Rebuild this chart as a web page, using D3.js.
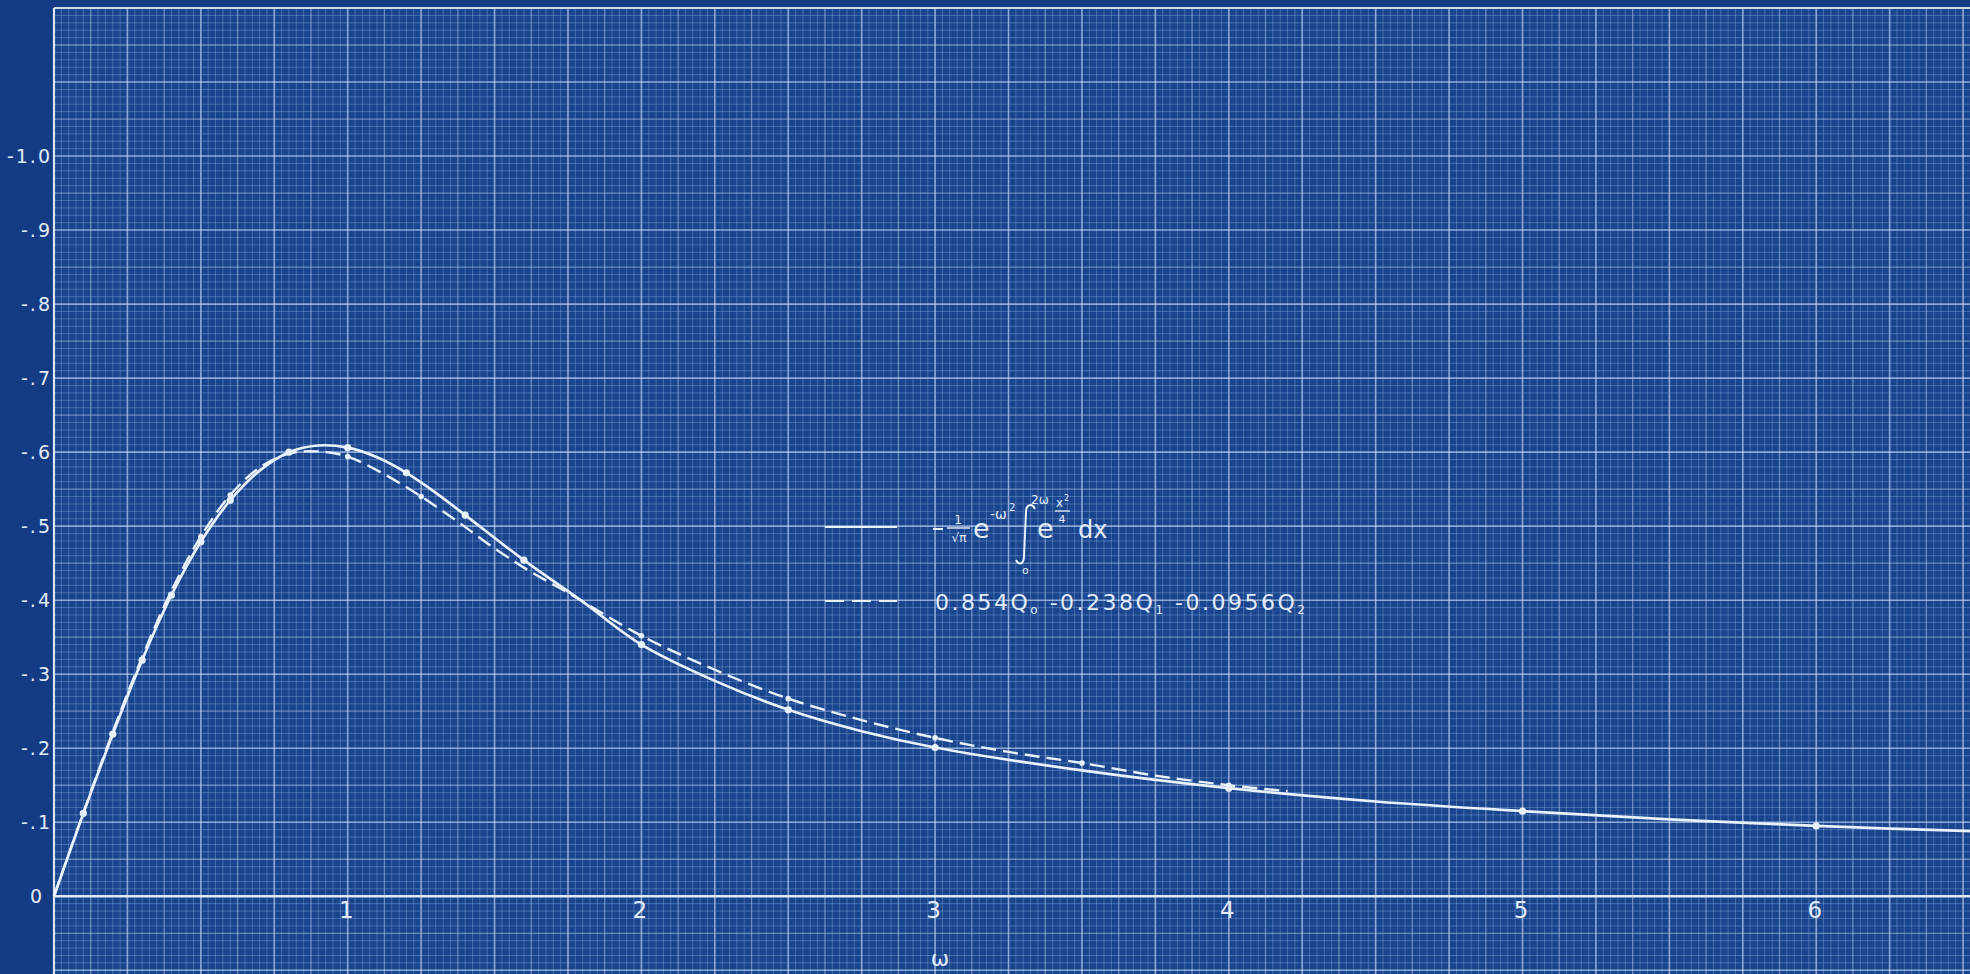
<!DOCTYPE html>
<html>
<head>
<meta charset="utf-8">
<script src="https://cdn.jsdelivr.net/npm/d3@7"></script>
<style>
  html, body { margin: 0; padding: 0; background: #143c84; }
  svg { display: block; }
  text { font-family: "DejaVu Sans", sans-serif; fill: #e2ecf8; }
</style>
</head>
<body>
<svg id="chart" width="1970" height="974"></svg>
<script>
// ω values and the plotted quantity (negative, plotted upward)
const omegaExact = [0, 0.1, 0.2, 0.3, 0.4, 0.5, 0.6, 0.7, 0.8, 0.9, 1.0, 1.1, 1.2, 1.3, 1.4, 1.6, 1.8, 2.0, 2.25, 2.5, 2.75, 3.0, 3.5, 4.0, 4.5, 5.0, 5.5, 6.0, 6.6];
const exactValues = [0, -0.112, -0.219, -0.319, -0.407, -0.479, -0.535, -0.575, -0.600, -0.609, -0.606, -0.593, -0.572, -0.545, -0.515, -0.454, -0.398, -0.340, -0.291, -0.252, -0.223, -0.201, -0.170, -0.146, -0.128, -0.115, -0.104, -0.095, -0.087];
const exactMarked = [0.1, 0.2, 0.3, 0.4, 0.5, 0.6, 0.8, 1.0, 1.2, 1.4, 1.6, 2.0, 2.5, 3.0, 4.0, 5.0, 6.0];

// three-term Q-series approximation: 0.854 Q0 - 0.238 Q1 - 0.0956 Q2
const omegaApprox = [0, 0.1, 0.2, 0.3, 0.4, 0.5, 0.6, 0.7, 0.8, 0.9, 1.0, 1.125, 1.25, 1.375, 1.5, 1.625, 1.75, 2.0, 2.25, 2.5, 2.75, 3.0, 3.25, 3.5, 3.75, 4.0, 4.2];
const approxValues = [0, -0.113, -0.222, -0.323, -0.413, -0.486, -0.542, -0.579, -0.598, -0.601, -0.594, -0.570, -0.540, -0.506, -0.470, -0.438, -0.410, -0.352, -0.306, -0.267, -0.238, -0.214, -0.195, -0.180, -0.163, -0.150, -0.142];
const approxMarked = [0.5, 0.6, 1.0, 1.25, 2.0, 2.5, 3.0, 3.5, 4.0];

// axis ticks
const xTickValues = [1, 2, 3, 4, 5, 6];
const xTickLabels = ["1", "2", "3", "4", "5", "6"];
const yTickValues = [0, -0.1, -0.2, -0.3, -0.4, -0.5, -0.6, -0.7, -0.8, -0.9, -1.0];
const yTickLabels = ["0", "-.1", "-.2", "-.3", "-.4", "-.5", "-.6", "-.7", "-.8", "-.9", "-1.0"];

const W = 1970, H = 974;
const padLeft = 54, padTop = 8;

const svg = d3.select("#chart");

// the ruled sheet runs past the right and bottom edges
const x = d3.scaleLinear().domain([0, 6.5236]).range([padLeft, W]);
const y = d3.scaleLinear().domain([0.105, -1.2]).range([H, padTop]);

svg.append("rect").attr("x", padLeft).attr("y", padTop)
  .attr("width", W - padLeft).attr("height", H - padTop).attr("fill", "#19458f");

// soft edges on the ruled lines
const defs = svg.append("defs");
defs.append("filter").attr("id", "soft")
  .append("feGaussianBlur").attr("stdDeviation", 0.5);
defs.append("filter").attr("id", "softer")
  .append("feGaussianBlur").attr("stdDeviation", 0.55);

const grid = svg.append("g").attr("filter", "url(#soft)");
const rule = (heavy, mid) => heavy ? "rgba(210,228,250,0.62)" : mid ? "rgba(195,218,246,0.46)" : "rgba(170,200,238,0.30)";
const ruleW = (heavy, mid) => heavy ? 1.6 : mid ? 1.3 : 1;

// vertical rulings: fine every 0.025, medium every 0.125, heavy every 0.25
d3.range(0, 262).forEach(i => {
  const xv = x(i / 40);
  const heavy = i % 10 === 0, mid = i % 5 === 0;
  grid.append("line")
    .attr("x1", xv).attr("x2", xv).attr("y1", padTop).attr("y2", H)
    .attr("stroke", rule(heavy, mid)).attr("stroke-width", ruleW(heavy, mid));
});
// horizontal rulings: fine every 0.01, medium every 0.05, heavy every 0.1
d3.range(-10, 121).forEach(j => {
  const yv = y(-j / 100);
  const heavy = j % 10 === 0, mid = j % 5 === 0;
  grid.append("line")
    .attr("x1", padLeft).attr("x2", W).attr("y1", yv).attr("y2", yv)
    .attr("stroke", rule(heavy, mid)).attr("stroke-width", ruleW(heavy, mid));
});

// sheet border along the top and left, and the ω axis
const ink = "#e9f1fa";
svg.append("line").attr("x1", padLeft).attr("x2", W).attr("y1", padTop).attr("y2", padTop)
  .attr("stroke", ink).attr("stroke-width", 2).attr("opacity", 0.8);
svg.append("line").attr("x1", padLeft).attr("x2", padLeft).attr("y1", padTop).attr("y2", H)
  .attr("stroke", ink).attr("stroke-width", 2.2).attr("opacity", 0.88);
svg.append("line").attr("x1", padLeft).attr("x2", W).attr("y1", y(0)).attr("y2", y(0))
  .attr("stroke", ink).attr("stroke-width", 2.6).attr("opacity", 0.92);

// axes (labels only)
const xAxis = d3.axisBottom(x).tickValues(xTickValues)
  .tickFormat((d, i) => xTickLabels[i]).tickSize(0).tickPadding(0);
const gx = svg.append("g").attr("transform", `translate(0,${y(0)})`).call(xAxis);
gx.select(".domain").remove();
gx.selectAll("text").attr("font-size", 23).attr("dy", "0.95em").attr("dx", -2)
  .attr("font-family", "DejaVu Sans").attr("fill", "#e2ecf8");

const yAxis = d3.axisLeft(y).tickValues(yTickValues)
  .tickFormat((d, i) => yTickLabels[i]).tickSize(0).tickPadding(0);
const gy = svg.append("g").attr("transform", `translate(${padLeft - 2},0)`).call(yAxis);
gy.select(".domain").remove();
gy.selectAll("text").attr("font-size", 19).attr("dy", "0.35em")
  .attr("font-family", "DejaVu Sans").attr("fill", "#e2ecf8")
  .attr("letter-spacing", 2);
gy.selectAll(".tick").filter(d => d === 0).select("text").attr("dx", -8);

svg.append("text").attr("x", 940).attr("y", 966).attr("text-anchor", "middle")
  .attr("font-size", 22).text("ω");

// curves
const line = d3.line().x(d => x(d[0])).y(d => y(d[1])).curve(d3.curveCatmullRom.alpha(0.5));
const exactPts = omegaExact.map((w, i) => [w, exactValues[i]]);
const approxPts = omegaApprox.map((w, i) => [w, approxValues[i]]);

const curves = svg.append("g").attr("filter", "url(#softer)");
curves.append("path").attr("d", line(approxPts)).attr("fill", "none")
  .attr("stroke", ink).attr("stroke-width", 2.4).attr("stroke-dasharray", "15,7");
curves.append("path").attr("d", line(exactPts)).attr("fill", "none")
  .attr("stroke", ink).attr("stroke-width", 2.7);

curves.selectAll("circle.e").data(exactPts.filter(p => exactMarked.includes(p[0])))
  .join("circle").attr("class", "e")
  .attr("cx", d => x(d[0])).attr("cy", d => y(d[1])).attr("r", 3.6).attr("fill", ink);
curves.selectAll("circle.a").data(approxPts.filter(p => approxMarked.includes(p[0])))
  .join("circle").attr("class", "a")
  .attr("cx", d => x(d[0])).attr("cy", d => y(d[1])).attr("r", 2.8).attr("fill", ink);

// key
const key = svg.append("g");
key.append("line").attr("x1", 825).attr("x2", 897).attr("y1", 527).attr("y2", 527)
  .attr("stroke", ink).attr("stroke-width", 2.2);
key.append("line").attr("x1", 825).attr("x2", 897).attr("y1", 601).attr("y2", 601)
  .attr("stroke", ink).attr("stroke-width", 2.2).attr("stroke-dasharray", "19,8");

// -(1/√π) e^{-ω²} ∫_0^{2ω} e^{x²/4} dx
const f = key.append("g");
f.append("line").attr("x1", 933).attr("x2", 943).attr("y1", 529).attr("y2", 529)
  .attr("stroke", ink).attr("stroke-width", 2);
f.append("text").attr("x", 958).attr("y", 524).attr("text-anchor", "middle").attr("font-size", 12).text("1");
f.append("line").attr("x1", 947).attr("x2", 970).attr("y1", 528).attr("y2", 528)
  .attr("stroke", ink).attr("stroke-width", 1.4);
f.append("text").attr("x", 959).attr("y", 542).attr("text-anchor", "middle").attr("font-size", 12).text("√π");
f.append("text").attr("x", 973).attr("y", 538).attr("font-size", 27).text("e");
f.append("text").attr("x", 990).attr("y", 519).attr("font-size", 14).text("-ω");
f.append("text").attr("x", 1009).attr("y", 511).attr("font-size", 10).text("2");
// integral sign, drawn as a stroke
f.append("path")
  .attr("d", "M1035,509 C1032,503 1026,504 1026,512 L1024,556 C1024,564 1019,566 1016,560")
  .attr("fill", "none").attr("stroke", ink).attr("stroke-width", 2);
f.append("text").attr("x", 1031).attr("y", 504).attr("font-size", 12).text("2ω");
f.append("text").attr("x", 1022).attr("y", 574).attr("font-size", 11).text("o");
f.append("text").attr("x", 1037).attr("y", 538).attr("font-size", 27).text("e");
f.append("text").attr("x", 1056).attr("y", 507).attr("font-size", 12).text("x");
f.append("text").attr("x", 1064).attr("y", 501).attr("font-size", 8).text("2");
f.append("line").attr("x1", 1055).attr("x2", 1070).attr("y1", 511).attr("y2", 511)
  .attr("stroke", ink).attr("stroke-width", 1.3);
f.append("text").attr("x", 1062).attr("y", 523).attr("text-anchor", "middle").attr("font-size", 11).text("4");
f.append("text").attr("x", 1078).attr("y", 538).attr("font-size", 24).text("dx");

// 0.854 Q0 - 0.238 Q1 - 0.0956 Q2
const q = key.append("text").attr("x", 935).attr("y", 610).attr("font-size", 22)
  .attr("textLength", 370).attr("lengthAdjust", "spacing");
[["0.854", null], ["Q", null], ["o", "sub"], [" -0.238", null], ["Q", null], ["1", "sub"],
 [" -0.0956", null], ["Q", null], ["2", "sub"]].forEach(([t, kind]) => {
  const s = q.append("tspan").text(t);
  if (kind === "sub") s.attr("font-size", 12).attr("dy", 4);
  else if (t.startsWith(" ")) s.attr("dy", -4);
});
</script>
</body>
</html>
